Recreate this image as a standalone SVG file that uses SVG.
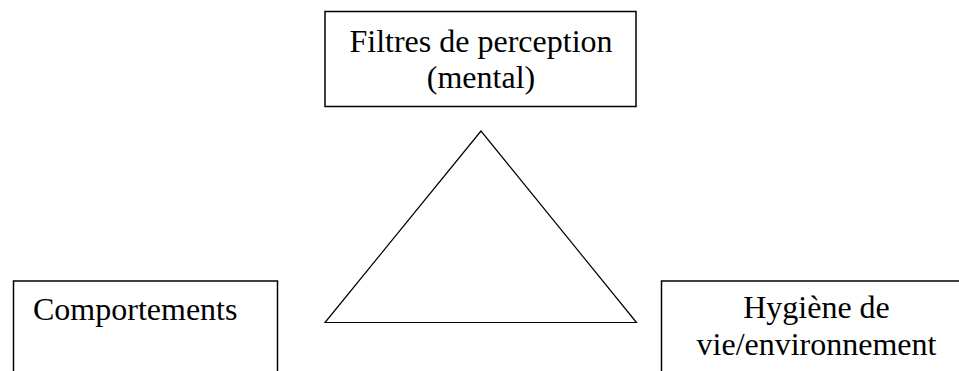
<svg xmlns="http://www.w3.org/2000/svg" width="959" height="371" viewBox="0 0 959 371">
  <style>
    .box { fill: #fff; stroke: #000; stroke-width: 1.5; }
    .tri { fill: none; stroke: #000; stroke-width: 1.2; stroke-linejoin: miter; }
    .lbl { font-family: "Liberation Serif", "Times New Roman", serif; font-size: 32px; fill: #000; }
    .c { text-anchor: middle; }
  </style>
  <rect width="959" height="371" fill="#fff"/>
  <g id="node-filtres">
    <rect class="box" x="325" y="11.5" width="311" height="95"/>
    <text class="lbl c" x="481" y="52">Filtres de perception</text>
    <text class="lbl c" x="481" y="88">(mental)</text>
  </g>
  <g id="node-comportements">
    <rect class="box" x="13.5" y="281" width="264" height="110"/>
    <text class="lbl" x="33" y="320">Comportements</text>
  </g>
  <g id="node-hygiene">
    <rect class="box" x="661.5" y="281" width="311" height="110"/>
    <text class="lbl c" x="816.5" y="318">Hygiène de</text>
    <text class="lbl c" x="816.5" y="355">vie/environnement</text>
  </g>
  <g id="connectors">
    <polygon class="tri" points="481,131 325,322.5 636.5,322.5"/>
  </g>
</svg>
